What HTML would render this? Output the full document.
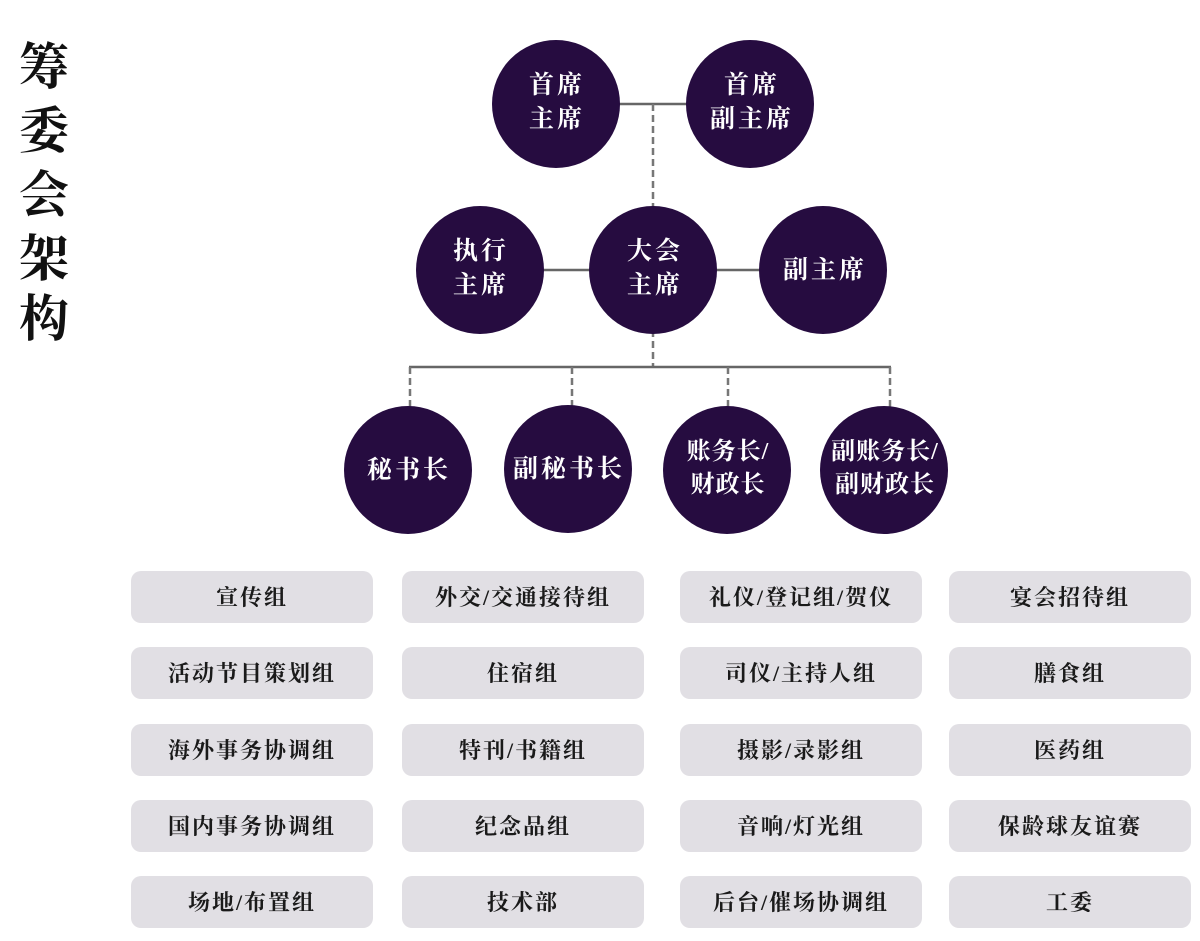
<!DOCTYPE html>
<html><head><meta charset="utf-8"><style>
html,body{margin:0;padding:0;background:#fff;}
svg{display:block;}
.c{fill:#260c40;}
.t{fill:#fff;font-family:"Liberation Serif","Noto Serif CJK SC",serif;font-weight:bold;font-size:25px;letter-spacing:3px;text-anchor:middle;}
.s{font-size:24px;letter-spacing:1px;}
.b{fill:#e1dfe4;}
.bt{fill:#1a1a1a;font-family:"Liberation Serif","Noto Serif CJK SC",serif;font-weight:bold;font-size:22px;letter-spacing:2px;text-anchor:middle;}
.ti{fill:#111;font-family:"Liberation Serif","Noto Serif CJK SC",serif;font-weight:bold;font-size:50px;text-anchor:middle;}
.l{stroke:#666;stroke-width:2.5;fill:none;}
.d{stroke:#777;stroke-width:2.5;fill:none;stroke-dasharray:7,4;}
</style></head><body>
<svg width="1200" height="941" xmlns="http://www.w3.org/2000/svg">
<text class="ti" x="44" y="84">筹</text>
<text class="ti" x="44" y="148">委</text>
<text class="ti" x="44" y="212">会</text>
<text class="ti" x="44" y="276">架</text>
<text class="ti" x="44" y="336">构</text>

<line class="l" x1="600" y1="104" x2="700" y2="104"/>
<line class="d" x1="653" y1="104" x2="653" y2="210"/>
<line class="l" x1="520" y1="270" x2="790" y2="270"/>
<line class="d" x1="653" y1="330" x2="653" y2="367"/>
<line class="l" x1="409" y1="367" x2="891" y2="367"/>
<line class="d" x1="410" y1="367" x2="410" y2="408"/>
<line class="d" x1="572" y1="367" x2="572" y2="408"/>
<line class="d" x1="728" y1="367" x2="728" y2="408"/>
<line class="d" x1="890" y1="367" x2="890" y2="408"/>

<circle class="c" cx="556" cy="104" r="64"/>
<text class="t" x="557" y="93">首席</text><text class="t" x="557" y="127">主席</text>
<circle class="c" cx="750" cy="104" r="64"/>
<text class="t" x="752" y="93">首席</text><text class="t" x="752" y="127">副主席</text>

<circle class="c" cx="480" cy="270" r="64"/>
<text class="t" x="481" y="259">执行</text><text class="t" x="481" y="293">主席</text>
<circle class="c" cx="653" cy="270" r="64"/>
<text class="t" x="655" y="259">大会</text><text class="t" x="655" y="293">主席</text>
<circle class="c" cx="823" cy="270" r="64"/>
<text class="t" x="825" y="278">副主席</text>

<circle class="c" cx="408" cy="470" r="64"/>
<text class="t" x="409" y="478">秘书长</text>
<circle class="c" cx="568" cy="469" r="64"/>
<text class="t" x="569" y="477">副秘书长</text>
<circle class="c" cx="727" cy="470" r="64"/>
<text class="t s" x="728" y="459">账务长/</text><text class="t s" x="728" y="492">财政长</text>
<circle class="c" cx="884" cy="470" r="64"/>
<text class="t s" x="885" y="459">副账务长/</text><text class="t s" x="885" y="492">副财政长</text>

<g>
<rect class="b" x="131" y="571" width="242" height="52" rx="10"/><text class="bt" x="252" y="605">宣传组</text>
<rect class="b" x="402" y="571" width="242" height="52" rx="10"/><text class="bt" x="523" y="605">外交/交通接待组</text>
<rect class="b" x="680" y="571" width="242" height="52" rx="10"/><text class="bt" x="801" y="605">礼仪/登记组/贺仪</text>
<rect class="b" x="949" y="571" width="242" height="52" rx="10"/><text class="bt" x="1070" y="605">宴会招待组</text>

<rect class="b" x="131" y="647" width="242" height="52" rx="10"/><text class="bt" x="252" y="681">活动节目策划组</text>
<rect class="b" x="402" y="647" width="242" height="52" rx="10"/><text class="bt" x="523" y="681">住宿组</text>
<rect class="b" x="680" y="647" width="242" height="52" rx="10"/><text class="bt" x="801" y="681">司仪/主持人组</text>
<rect class="b" x="949" y="647" width="242" height="52" rx="10"/><text class="bt" x="1070" y="681">膳食组</text>

<rect class="b" x="131" y="724" width="242" height="52" rx="10"/><text class="bt" x="252" y="758">海外事务协调组</text>
<rect class="b" x="402" y="724" width="242" height="52" rx="10"/><text class="bt" x="523" y="758">特刊/书籍组</text>
<rect class="b" x="680" y="724" width="242" height="52" rx="10"/><text class="bt" x="801" y="758">摄影/录影组</text>
<rect class="b" x="949" y="724" width="242" height="52" rx="10"/><text class="bt" x="1070" y="758">医药组</text>

<rect class="b" x="131" y="800" width="242" height="52" rx="10"/><text class="bt" x="252" y="834">国内事务协调组</text>
<rect class="b" x="402" y="800" width="242" height="52" rx="10"/><text class="bt" x="523" y="834">纪念品组</text>
<rect class="b" x="680" y="800" width="242" height="52" rx="10"/><text class="bt" x="801" y="834">音响/灯光组</text>
<rect class="b" x="949" y="800" width="242" height="52" rx="10"/><text class="bt" x="1070" y="834">保龄球友谊赛</text>

<rect class="b" x="131" y="876" width="242" height="52" rx="10"/><text class="bt" x="252" y="910">场地/布置组</text>
<rect class="b" x="402" y="876" width="242" height="52" rx="10"/><text class="bt" x="523" y="910">技术部</text>
<rect class="b" x="680" y="876" width="242" height="52" rx="10"/><text class="bt" x="801" y="910">后台/催场协调组</text>
<rect class="b" x="949" y="876" width="242" height="52" rx="10"/><text class="bt" x="1070" y="910">工委</text>
</g>
</svg>
</body></html>
